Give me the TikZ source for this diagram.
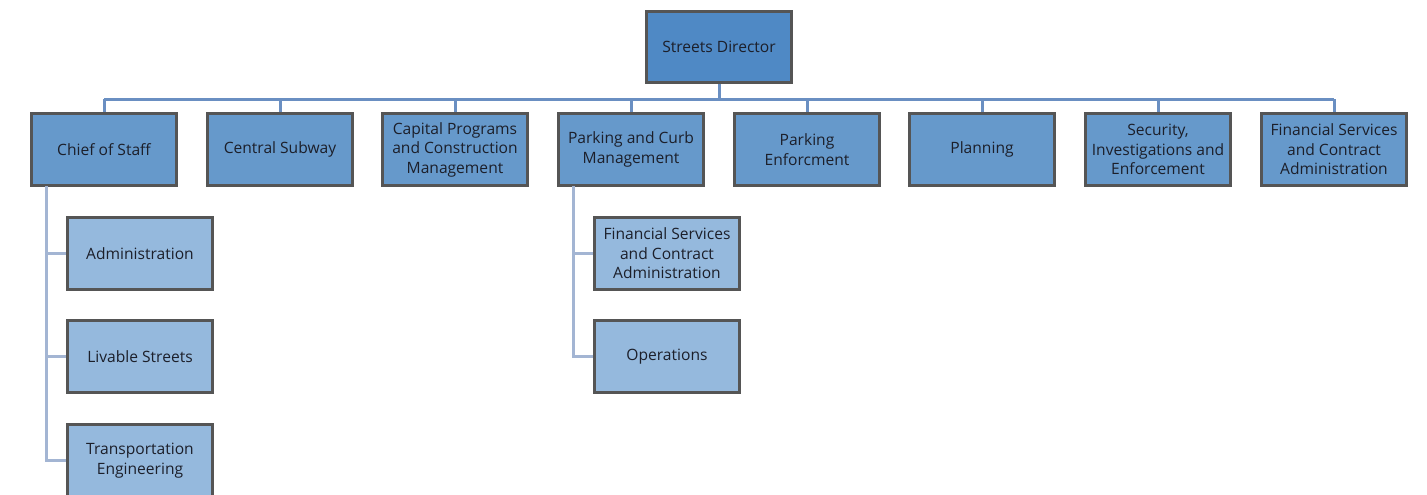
\documentclass[tikz,border=0pt]{standalone}
\usepackage{fontspec}
\setmainfont{Open Sans}
\definecolor{dirfill}{HTML}{4F89C5}
\definecolor{midfill}{HTML}{6699CB}
\definecolor{lowfill}{HTML}{95B9DD}
\definecolor{boxline}{HTML}{555555}
\definecolor{topline}{HTML}{6A8FC2}
\definecolor{subline}{HTML}{A3B5D3}
\definecolor{txt}{HTML}{1C1F2A}
\tikzset{
  box/.style={draw=boxline, line width=2.25pt, minimum width=108.5pt, minimum height=53.5pt,
    inner sep=0pt, align=center, text=txt, font=\fontsize{11.7}{14.6}\selectfont},
  dirbox/.style={box, fill=dirfill},
  midbox/.style={box, fill=midfill},
  lowbox/.style={box, fill=lowfill},
  topconn/.style={draw=topline, line width=2.25pt},
  subconn/.style={draw=subline, line width=2.25pt},
}
\begin{document}
\begin{tikzpicture}[x=0.75pt, y=-0.75pt]
\useasboundingbox (0,0) rectangle (1427,494);
\coordinate (busL) at (104,99);
\coordinate (busR) at (1334,99);
\node[dirbox] (dir) at (719,47) {Streets Director};
\node[midbox] (cos) at (104,149.5) {Chief of Staff};
\node[midbox] (cs) at (280,149.5) {Central Subway};
\node[midbox] (cap) at (455,149.5) {Capital Programs\\and Construction\\Management};
\node[midbox] (pcm) at (631,149.5) {Parking and Curb\\Management};
\node[midbox] (pe) at (807,149.5) {Parking\\Enforcment};
\node[midbox] (pl) at (982,149.5) {Planning};
\node[midbox] (sie) at (1158,149.5) {Security,\\Investigations and\\Enforcement};
\node[midbox] (fsca) at (1334,149.5) {Financial Services\\and Contract\\Administration};
\node[lowbox] (adm) at (140,253.5) {Administration};
\node[lowbox] (ls) at (140,356.5) {Livable Streets};
\node[lowbox] (te) at (140,460.5) {Transportation\\Engineering};
\node[lowbox] (pfs) at (667,253.5) {Financial Services\\and Contract\\Administration};
\node[lowbox] (ops) at (667,356.5) {Operations};
% top connectors
\draw[topconn] (dir.south) -- (dir.south |- busL);
\draw[topconn] (busL) -- (busR);
\foreach \n in {cos,cs,cap,pcm,pe,pl,sie,fsca}{
  \draw[topconn] (\n.north |- busL) -- (\n.north);
}
% left subtree
\coordinate (lt) at (46,186);
\draw[subconn] (lt) -- (lt |- te.west) -- (te.west);
\draw[subconn] (lt |- adm.west) -- (adm.west);
\draw[subconn] (lt |- ls.west) -- (ls.west);
% parking subtree
\coordinate (pt) at (573,186);
\draw[subconn] (pt) -- (pt |- ops.west) -- (ops.west);
\draw[subconn] (pt |- pfs.west) -- (pfs.west);
\end{tikzpicture}
\end{document}
